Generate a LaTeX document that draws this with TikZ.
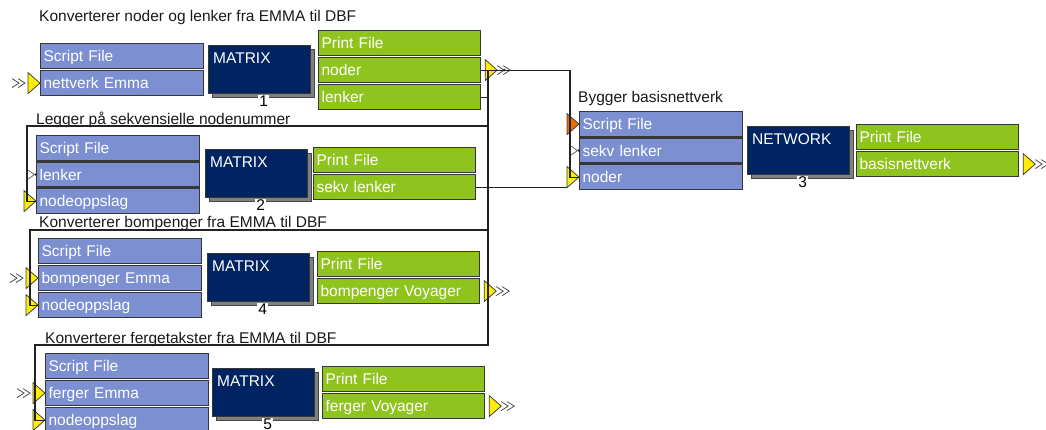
\documentclass[tikz,border=0pt]{standalone}
\usepackage{fontspec}
\setmainfont{Liberation Sans}
\usetikzlibrary{shadows,calc}

\definecolor{inblue}{RGB}{123,143,209}
\definecolor{outgreen}{RGB}{143,196,31}
\definecolor{navy}{RGB}{0,36,98}
\definecolor{boxline}{RGB}{55,55,55}
\definecolor{portyellow}{RGB}{255,238,0}
\definecolor{portorange}{RGB}{238,110,0}
\definecolor{shadowgray}{RGB}{128,128,128}
\definecolor{shadowline}{RGB}{70,70,70}
\definecolor{wire}{RGB}{35,35,35}

\newcommand\diafont{\fontsize{15.5pt}{18pt}\selectfont}

\tikzset{
  title/.style={anchor=base west, inner sep=0pt, font=\diafont, text=black!90},
  box/.style={rectangle, draw=boxline, line width=1.2pt, anchor=north west,
    minimum height=25pt, inner xsep=3pt, inner ysep=0pt, text height=11pt,
    text depth=0pt, align=left, text=white, font=\diafont},
  inbox/.style={box, fill=inblue, text width=157pt},
  outbox/.style={box, fill=outgreen, text width=156pt},
  proc/.style={rectangle, draw=boxline, line width=1.2pt, fill=navy,
    anchor=north west, minimum width=102pt, minimum height=48pt, inner sep=0pt,
    general shadow={shadow xshift=4pt, shadow yshift=-4pt, fill=shadowgray,
      draw=shadowline, line width=1pt, opacity=1}},
  proclabel/.style={anchor=north west, inner sep=0pt, text height=11pt,
    text depth=0pt, text=white, font=\diafont},
  numlabel/.style={anchor=north, fill=white, inner xsep=1pt, inner ysep=0.5pt,
    text height=11pt, text depth=0pt, text=black, font=\diafont},
  conn/.style={draw=wire, line width=1.1pt},
  chevline/.style={draw=black!70, line width=0.8pt},
  pics/inport/.style={code={
    \filldraw[fill=#1, draw=black!75, line width=0.8pt]
      (-12,-10.5) -- (0,0) -- (-12,10.5) -- cycle;}},
  pics/outport/.style={code={
    \filldraw[fill=portyellow, draw=black!75, line width=0.8pt]
      (0,-10.5) -- (12,0) -- (0,10.5) -- cycle;}},
  pics/chev/.style={code={
    \draw[chevline] (0,-4.5) -- (7,0) -- (0,4.5) (6,-4.5) -- (13,0) -- (6,4.5);}},
  pics/minichev/.style={code={
    \draw[draw=black!60, line width=0.8pt] (-8,-4.5) -- (-1.5,0) -- (-8,4.5);
    \fill[wire] (0,0) circle (1.4);}},
}

\begin{document}
\begin{tikzpicture}[x=1pt,y=-1pt]
\useasboundingbox (0,0) rectangle (1046,430);

% ---------- group 1: noder og lenker ----------
\node[title] (t1) at (39,22) {Konverterer noder og lenker fra EMMA til DBF};
\node[inbox] (g1script) at (40,43) {Script File};
\node[inbox] (g1in) at (40,70) {nettverk Emma};
\node[proc] (m1) at (208,45) {};
\node[proclabel] (m1l) at ([shift={(5,7.5)}]m1.north west) {MATRIX};
\node[numlabel] (m1n) at ([shift={(4,1)}]m1.south) {1};
\node[outbox] (g1print) at (318,30) {Print File};
\node[outbox] (g1noder) at (318,57) {noder};
\node[outbox] (g1lenker) at (318,84) {lenker};

% ---------- group 2: sekvensielle nodenummer ----------
\node[title] (t2) at (36,125) {Legger på sekvensielle nodenummer};
\node[inbox] (g2script) at (36,135) {Script File};
\node[inbox] (g2lenker) at (36,161.5) {lenker};
\node[inbox] (g2nodeopp) at (36,188) {nodeoppslag};
\node[proc] (m2) at (205,149) {};
\node[proclabel] (m2l) at ([shift={(5,7.5)}]m2.north west) {MATRIX};
\node[numlabel] (m2n) at ([shift={(4,1)}]m2.south) {2};
\node[outbox] (g2print) at (313,147) {Print File};
\node[outbox] (g2sekv) at (313,174) {sekv lenker};

% ---------- group 3: basisnettverk ----------
\node[title] (t3) at (578,103) {Bygger basisnettverk};
\node[inbox] (g3script) at (579,111) {Script File};
\node[inbox] (g3sekv) at (579,137.5) {sekv lenker};
\node[inbox] (g3noder) at (579,164) {noder};
\node[proc] (m3) at (747,126) {};
\node[proclabel] (m3l) at ([shift={(5,7)}]m3.north west) {NETWORK};
\node[numlabel] (m3n) at ([shift={(4,1)}]m3.south) {3};
\node[outbox] (g3print) at (856,124) {Print File};
\node[outbox] (g3out) at (856,151) {basisnettverk};

% ---------- group 4: bompenger ----------
\node[title] (t4) at (39,228) {Konverterer bompenger fra EMMA til DBF};
\node[inbox] (g4script) at (38,238) {Script File};
\node[inbox] (g4in) at (38,265) {bompenger Emma};
\node[inbox] (g4nodeopp) at (38,292) {nodeoppslag};
\node[proc] (m4) at (207,253) {};
\node[proclabel] (m4l) at ([shift={(5,7.5)}]m4.north west) {MATRIX};
\node[numlabel] (m4n) at ([shift={(4,1)}]m4.south) {4};
\node[outbox] (g4print) at (317,251) {Print File};
\node[outbox] (g4out) at (317,278) {bompenger Voyager};

% ---------- group 5: fergetakster ----------
\node[title] (t5) at (45,343) {Konverterer fergetakster fra EMMA til DBF};
\node[inbox] (g5script) at (45,353) {Script File};
\node[inbox] (g5in) at (45,380) {ferger Emma};
\node[inbox] (g5nodeopp) at (45,407) {nodeoppslag};
\node[proc] (m5) at (212,368) {};
\node[proclabel] (m5l) at ([shift={(5,7.5)}]m5.north west) {MATRIX};
\node[numlabel] (m5n) at ([shift={(4,1)}]m5.south) {5};
\node[outbox] (g5print) at (322,366) {Print File};
\node[outbox] (g5out) at (322,393) {ferger Voyager};

% ---------- ports ----------
\pic at (g1in.west) {inport=portyellow};
\pic at ([xshift=-28pt]g1in.west) {chev};
\pic at ([xshift=4pt]g1noder.east) {outport};
\pic at ([xshift=16pt]g1noder.east) {chev};

\pic at (g2lenker.west) {minichev};
\pic at (g2nodeopp.west) {inport=portyellow};

\pic at (g3script.west) {inport=portorange};
\pic at (g3sekv.west) {minichev};
\pic at (g3noder.west) {inport=portyellow};
\pic at ([xshift=4pt]g3out.east) {outport};
\pic at ([xshift=16pt]g3out.east) {chev};

\pic at (g4in.west) {inport=portyellow};
\pic at ([xshift=-28pt]g4in.west) {chev};
\pic at (g4nodeopp.west) {inport=portyellow};
\pic at ([xshift=4pt]g4out.east) {outport};
\pic at ([xshift=16pt]g4out.east) {chev};

\pic at (g5in.west) {inport=portyellow};
\pic at ([xshift=-28pt]g5in.west) {chev};
\pic at (g5nodeopp.west) {inport=portyellow};
\pic at ([xshift=4pt]g5out.east) {outport};
\pic at ([xshift=16pt]g5out.east) {chev};

% ---------- connectors ----------
\coordinate (bus) at (488,0);
\coordinate (j3) at (570,0);
\coordinate (f2) at (27,126);
\coordinate (f4) at (30,230);
\coordinate (f5) at (35,345);

\draw[conn] (g1noder.east) -- (g1noder.east -| j3) |- (g3noder.west);
\fill[wire] ([xshift=23pt]g1noder.east) circle (1.4);
\draw[conn] (g1noder.east -| bus) -- (bus |- f5) -- (f5) |- (g5nodeopp.west);
\draw[conn] (g1lenker.east) -- (g1lenker.east -| bus);
\draw[conn] (bus |- f2) -- (f2) |- (g2nodeopp.west);
\draw[conn] (bus |- f4) -- (f4) |- (g4nodeopp.west);
\draw[conn] (g2sekv.east) -- ([xshift=-3pt]g2sekv.east -| j3);
\end{tikzpicture}
\end{document}
